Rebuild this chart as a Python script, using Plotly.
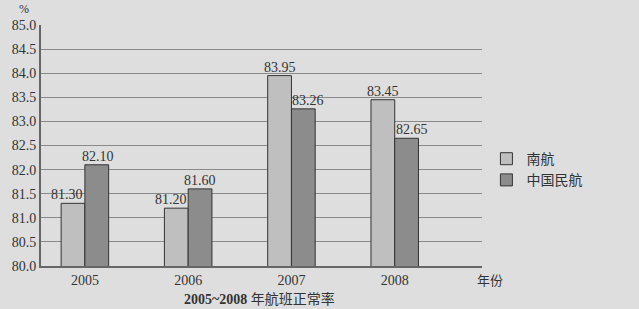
import plotly.graph_objects as go

years = ["2005", "2006", "2007", "2008"]
nanhang = [81.30, 81.20, 83.95, 83.45]
minhang = [82.10, 81.60, 83.26, 82.65]
yticks = [80.0, 80.5, 81.0, 81.5, 82.0, 82.5, 83.0, 83.5, 84.0, 84.5, 85.0]

# small horizontal nudges (px) of value labels, as in the reference
nanhang_label_nudge = [-6, -5, 1, 0]
minhang_label_nudge = [1, 0, 5, 5]

serif = "Liberation Serif, Times New Roman, serif"
cjk = "Noto Sans CJK SC"
half_bar_px = 12

fig = go.Figure()
fig.add_trace(go.Bar(x=years, y=nanhang, name="南航",
                     marker=dict(color="#bfbfbf", line=dict(color="#333333", width=1))))
fig.add_trace(go.Bar(x=years, y=minhang, name="中国民航",
                     marker=dict(color="#8c8c8c", line=dict(color="#333333", width=1))))

annotations = []
for i, (v, n) in enumerate(zip(nanhang, nanhang_label_nudge)):
    annotations.append(dict(x=i, y=v, xref="x", yref="y", text=f"{v:.2f}", showarrow=False,
                            xanchor="center", yanchor="bottom", xshift=-half_bar_px + n, yshift=-1,
                            font=dict(family=serif, size=14, color="#333333")))
for i, (v, n) in enumerate(zip(minhang, minhang_label_nudge)):
    annotations.append(dict(x=i, y=v, xref="x", yref="y", text=f"{v:.2f}", showarrow=False,
                            xanchor="center", yanchor="bottom", xshift=half_bar_px + n, yshift=-1,
                            font=dict(family=serif, size=14, color="#333333")))
annotations += [
    dict(text="%", x=0, y=1, xref="paper", yref="paper", xanchor="right", yanchor="bottom",
         xshift=-10, yshift=7, showarrow=False, font=dict(family=serif, size=12, color="#333333")),
    dict(text="年份", x=1, y=0, xref="paper", yref="paper", xanchor="center", yanchor="top",
         xshift=8, yshift=-2, showarrow=False, font=dict(family=cjk, size=13, color="#333333")),
    dict(text="<b>2005~2008</b> <span style='font-family:Noto Sans CJK SC'>年航班正常率</span>",
         x=(258 - 38) / 444, y=0, xref="paper", yref="paper",
         xanchor="center", yanchor="top", yshift=-20,
         showarrow=False, font=dict(family=serif, size=14, color="#333333")),
]

fig.update_layout(
    width=639, height=309,
    margin=dict(l=38, r=157, t=25, b=43),
    paper_bgcolor="#dedede", plot_bgcolor="#dedede",
    barmode="group", bargap=0.54, bargroupgap=0,
    showlegend=True,
    legend=dict(x=1.01, y=0.51, xanchor="left", yanchor="top",
                font=dict(family=cjk, size=14, color="#333333"),
                bgcolor="rgba(0,0,0,0)", itemwidth=30, tracegroupgap=2),
    xaxis=dict(type="category", range=[-0.425, 3.845], showgrid=False,
               showline=True, linecolor="#666666", linewidth=2,
               ticks="", tickfont=dict(family=serif, size=14, color="#333333")),
    yaxis=dict(range=[80, 85], tickvals=yticks, ticktext=[f"{v:.1f}" for v in yticks],
               showgrid=True, gridcolor="#8a8a8a", gridwidth=1,
               showline=True, linecolor="#666666", linewidth=2,
               ticks="", tickfont=dict(family=serif, size=14, color="#333333")),
    font=dict(family=serif, color="#333333"),
    annotations=annotations,
)

fig.write_html("out.html")
